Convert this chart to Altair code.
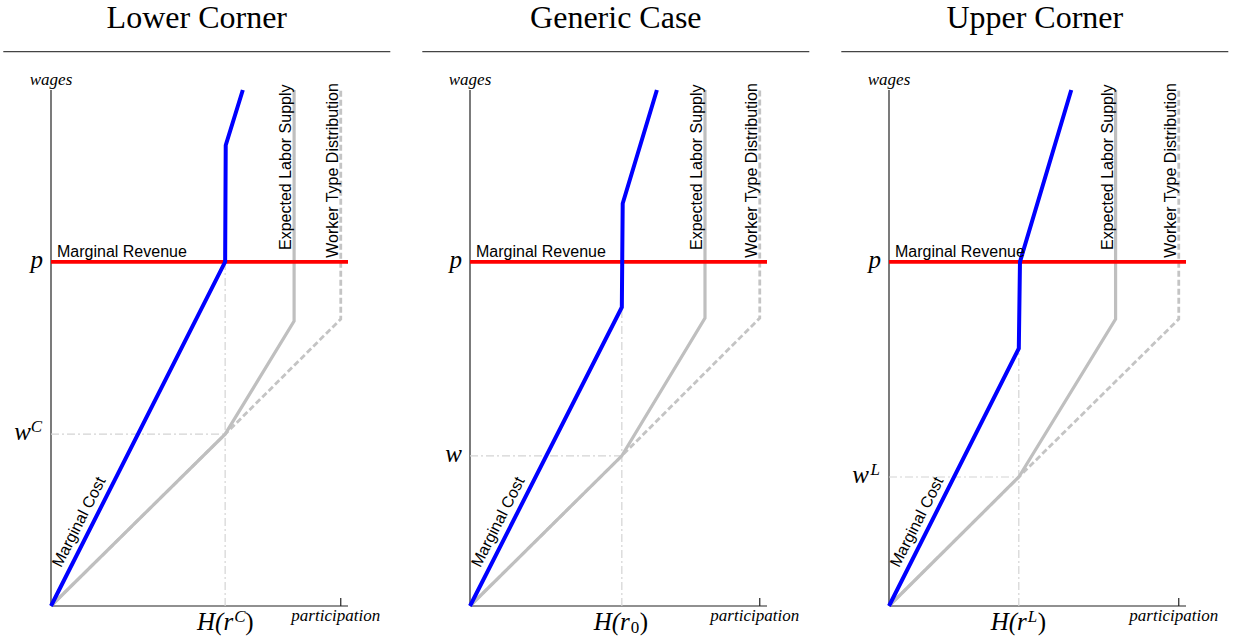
import altair as alt
import pandas as pd

# ---------------- data ----------------
titles = ["Lower Corner", "Generic Case", "Upper Corner"]
p_level = 0.667                       # marginal revenue p (wages axis, 0..1)
h_vals = [0.601, 0.524, 0.448]        # H(r) on participation axis
w_vals = [0.333, 0.291, 0.250]        # equilibrium wage
h_scripts = ["C", "0", "L"]           # H(r^C), H(r_0), H(r^L)
h_script_kind = ["sup", "sub", "sup"]
w_scripts = ["C", "", "L"]            # w^C, w, w^L

# Marginal Cost (blue) vertices
mc_x = [[0, 0.601, 0.603, 0.662], [0, 0.524, 0.527, 0.645], [0, 0.448, 0.452, 0.629]]
mc_y = [[0, 0.667, 0.893, 1.0], [0, 0.579, 0.780, 1.0], [0, 0.499, 0.667, 1.0]]
# Expected Labor Supply (solid grey)
els_x = [[0, 0.601, 0.839, 0.839], [0, 0.524, 0.811, 0.811], [0, 0.448, 0.782, 0.782]]
els_y = [[0, 0.333, 0.552, 1.0], [0, 0.291, 0.558, 1.0], [0, 0.250, 0.556, 1.0]]
# Worker Type Distribution (dashed grey)
wtd_x = [[0, 0.601, 1.0, 1.0], [0, 0.524, 1.0, 1.0], [0, 0.448, 1.0, 1.0]]
wtd_y = [[0, 0.333, 0.556, 1.0], [0, 0.291, 0.558, 1.0], [0, 0.250, 0.556, 1.0]]

x_max = 1.025
mc_label_y = 0.066

SANS = "Liberation Sans"
SERIF = "Liberation Serif"


def X(field="x"):
    return alt.X(f"{field}:Q", scale=alt.Scale(domain=[0, x_max], nice=False, zero=False), title=None)


def Y(field="y"):
    return alt.Y(f"{field}:Q", scale=alt.Scale(domain=[0, 1], nice=False, zero=False), title=None)


def line(xs, ys, **kw):
    df = pd.DataFrame({"x": xs, "y": ys, "i": list(range(len(xs)))})
    return alt.Chart(df).mark_line(strokeCap="butt", strokeJoin="miter", **kw).encode(
        x=X(), y=Y(), order="i:O")


def label(df, **kw):
    return alt.Chart(df).mark_text(**kw).encode(x=X(), y=Y(), text="t:N")


def panel(k):
    H, w, p = h_vals[k], w_vals[k], p_level
    layers = []
    # title + rule
    layers.append(alt.Chart(pd.DataFrame({"t": [titles[k]]})).mark_text(
        font=SERIF, fontSize=32, align="center", baseline="alphabetic", color="black"
    ).encode(x=alt.value(145.8), y=alt.value(-62.3), text="t:N"))
    layers.append(alt.Chart(pd.DataFrame({"a": [0]})).mark_rule(color="#444444", strokeWidth=1.2).encode(
        x=alt.value(-47.7), x2=alt.value(339.3), y=alt.value(-38.3)))
    # axes lines
    layers.append(alt.Chart(pd.DataFrame({"x": [0], "x2": [x_max], "y": [0]})).mark_rule(
        color="#222222", strokeWidth=1.2).encode(x=X(), x2="x2:Q", y=Y()))
    layers.append(alt.Chart(pd.DataFrame({"x": [0], "y": [0], "y2": [1]})).mark_rule(
        color="#222222", strokeWidth=1.2).encode(x=X(), y=Y(), y2="y2:Q"))
    layers.append(alt.Chart(pd.DataFrame({"x": [1.0], "y": [0]})).mark_rule(
        color="#222222", strokeWidth=1.2).encode(x=X(), y=Y(), y2=alt.value(508)))
    # guides
    layers.append(alt.Chart(pd.DataFrame({"x": [0], "x2": [H], "y": [w]})).mark_rule(
        color="#d4d4d4", strokeWidth=1.2, strokeDash=[8, 3, 2, 3]).encode(x=X(), x2="x2:Q", y=Y()))
    layers.append(alt.Chart(pd.DataFrame({"x": [H], "y": [0], "y2": [mc_y[k][1]]})).mark_rule(
        color="#d4d4d4", strokeWidth=1.2, strokeDash=[8, 3, 2, 3]).encode(x=X(), y=Y(), y2="y2:Q"))
    # curves
    layers.append(line(wtd_x[k], wtd_y[k], color="#c4c4c4", strokeWidth=2.8, strokeDash=[6, 3]))
    layers.append(line(els_x[k], els_y[k], color="#bfbfbf", strokeWidth=3.2))
    layers.append(alt.Chart(pd.DataFrame({"x": [0], "x2": [x_max], "y": [p]})).mark_rule(
        color="#ff0000", strokeWidth=3.6).encode(x=X(), x2="x2:Q", y=Y()))
    layers.append(line(mc_x[k], mc_y[k], color="#0000ff", strokeWidth=4))

    # curve labels
    layers.append(label(pd.DataFrame({"x": [0], "y": [p], "t": ["Marginal Revenue"]}),
                        font=SANS, fontSize=16, align="left", baseline="alphabetic", dx=6, dy=-5))
    mcx = mc_label_y * mc_x[k][1] / mc_y[k][1]
    layers.append(label(pd.DataFrame({"x": [mcx], "y": [mc_label_y], "t": ["Marginal Cost"]}),
                        font=SANS, fontSize=16, align="left", baseline="alphabetic", angle=297, dy=-8))
    layers.append(label(pd.DataFrame({"x": [els_x[k][2]], "y": [0.69], "t": ["Expected Labor Supply"]}),
                        font=SANS, fontSize=16, align="left", baseline="alphabetic", angle=270, dy=-3))
    layers.append(label(pd.DataFrame({"x": [wtd_x[k][2]], "y": [0.675], "t": ["Worker Type Distribution"]}),
                        font=SANS, fontSize=16, align="left", baseline="alphabetic", angle=270, dy=-3))

    # axis labels
    layers.append(label(pd.DataFrame({"x": [0], "y": [1], "t": ["wages"]}),
                        font=SERIF, fontStyle="italic", fontSize=17, align="center", baseline="alphabetic", dy=-5))
    layers.append(label(pd.DataFrame({"x": [1.0], "y": [0], "t": ["participation"]}),
                        font=SERIF, fontStyle="italic", fontSize=17, align="center", baseline="alphabetic",
                        dx=-5, dy=15))
    # y tick labels
    layers.append(label(pd.DataFrame({"x": [0], "y": [p], "t": ["p"]}),
                        font=SERIF, fontStyle="italic", fontSize=25, align="right", baseline="alphabetic",
                        dx=-8, dy=6))
    if w_scripts[k]:
        layers.append(label(pd.DataFrame({"x": [0], "y": [w], "t": ["w"]}),
                            font=SERIF, fontStyle="italic", fontSize=25, align="right", baseline="alphabetic",
                            dx=-20, dy=6))
        layers.append(label(pd.DataFrame({"x": [0], "y": [w], "t": [w_scripts[k]]}),
                            font=SERIF, fontStyle="italic", fontSize=17, align="right", baseline="alphabetic",
                            dx=-9, dy=-2))
    else:
        layers.append(label(pd.DataFrame({"x": [0], "y": [w], "t": ["w"]}),
                            font=SERIF, fontStyle="italic", fontSize=25, align="right", baseline="alphabetic",
                            dx=-8, dy=6))
    # x tick label H(r..)
    base_dy = 24
    layers.append(label(pd.DataFrame({"x": [H], "y": [0], "t": ["H(r"]}),
                        font=SERIF, fontStyle="italic", fontSize=25, align="right", baseline="alphabetic",
                        dx=8, dy=base_dy))
    if h_script_kind[k] == "sup":
        layers.append(label(pd.DataFrame({"x": [H], "y": [0], "t": [h_scripts[k]]}),
                            font=SERIF, fontStyle="italic", fontSize=17, align="left", baseline="alphabetic",
                            dx=9, dy=base_dy - 8))
        close_dx = 9 + (11 if h_scripts[k] == "C" else 10)
    else:
        layers.append(label(pd.DataFrame({"x": [H], "y": [0], "t": [h_scripts[k]]}),
                            font=SERIF, fontSize=17, align="left", baseline="alphabetic",
                            dx=9, dy=base_dy + 3))
        close_dx = 9 + 9
    layers.append(label(pd.DataFrame({"x": [H], "y": [0], "t": [")"]}),
                        font=SERIF, fontSize=25, align="left", baseline="alphabetic",
                        dx=close_dx, dy=base_dy))

    return alt.layer(*layers).properties(width=297, height=516)


chart = alt.hconcat(panel(0), panel(1), panel(2), spacing=122, bounds="flush").properties(
    padding={"left": 2, "top": 1, "right": 2, "bottom": 2}
).configure_view(stroke=None).configure_axis(
    domain=False, ticks=False, labels=False, grid=False
)

chart.save("out.html", embed_options={"renderer": "svg", "actions": False})
